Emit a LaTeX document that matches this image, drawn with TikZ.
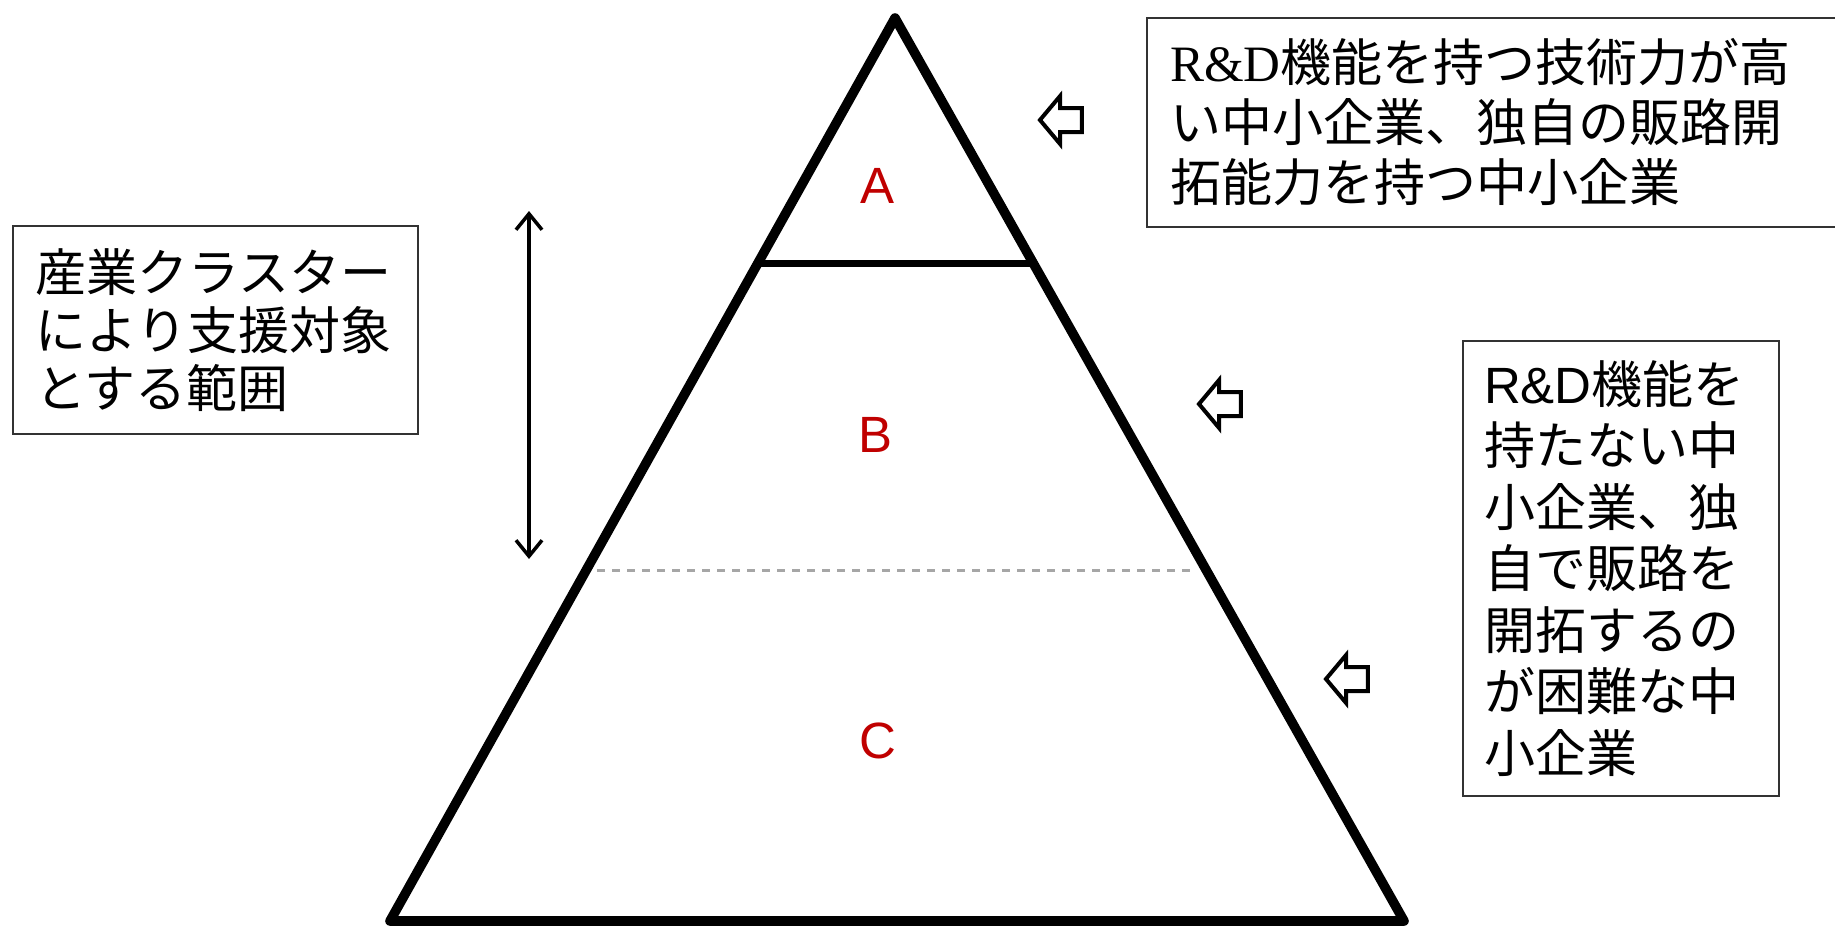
\documentclass[tikz,border=0pt]{standalone}
\usepackage{fontspec}
\setmainfont{Liberation Serif}
\newfontfamily\jpfont{Noto Sans CJK JP}
\newfontfamily\arialfont{Liberation Sans}
\usetikzlibrary{shapes.arrows,arrows.meta}
\definecolor{labred}{RGB}{192,0,0}
\tikzset{
  infobox/.style={draw=black!80,line width=1pt,align=left,inner ysep=0pt},
  lettre/.style={text=labred,font=\arialfont\fontsize{25.5}{30}\selectfont},
  fleche/.style={draw,line width=2pt,single arrow,single arrow head extend=6pt,single arrow tip angle=100,inner xsep=0pt,inner ysep=5pt,minimum height=21pt,minimum width=21pt,shape border rotate=180},
}
\begin{document}
\begin{tikzpicture}
[x=0.5pt,y=-0.5pt]
\useasboundingbox (0,0) rectangle (1835,927);
\coordinate (sommet) at (895,18);
\coordinate (gauche) at (390,921);
\coordinate (droite) at (1404,921);
\draw[line width=4.8pt,line join=round] (sommet) -- (gauche) -- (droite) -- cycle;
\draw[line width=3.5pt] (757,263) -- (1033,263);
\draw[black!35,line width=1.5pt,dash pattern=on 4pt off 3.5pt] (597,570) -- (1196,570);
\draw (877,186) node[lettre] (A) {A};
\draw (875,435) node[lettre] (B) {B};
\draw (878,741) node[lettre] (C) {C};
\coordinate (haut) at (529,211);
\coordinate (bas) at (529,559);
\draw[line width=1.75pt,{Straight Barb[length=8pt,width=13pt]}-{Straight Barb[length=8pt,width=13pt]}] (haut) -- (bas);
\draw (215.5,330) node[infobox,text width=180.5pt,inner xsep=11pt,minimum height=104pt,font=\jpfont\fontsize{25.5}{29}\selectfont] (cluster) {産業クラスター\\により支援対象\\とする範囲};
\draw (1492,122.5) node[infobox,text width=322pt,inner xsep=11.5pt,minimum height=104.5pt,font=\jpfont\fontsize{25.5}{30}\selectfont] (haute) {{\rmfamily R\&D}機能を持つ技術力が高\\い中小企業、独自の販路開\\拓能力を持つ中小企業};
\draw (1621,568.5) node[infobox,text width=137pt,inner xsep=10.5pt,minimum height=227.5pt,font=\jpfont\fontsize{25.5}{30.75}\selectfont] (basse) {{\arialfont R\&D}機能を\\持たない中\\小企業、独\\自で販路を\\開拓するの\\が困難な中\\小企業};
\draw (1066,120) node[fleche] (flecheA) {};
\draw (1225,404) node[fleche] (flecheB) {};
\draw (1352,679) node[fleche] (flecheC) {};
\end{tikzpicture}
\end{document}
